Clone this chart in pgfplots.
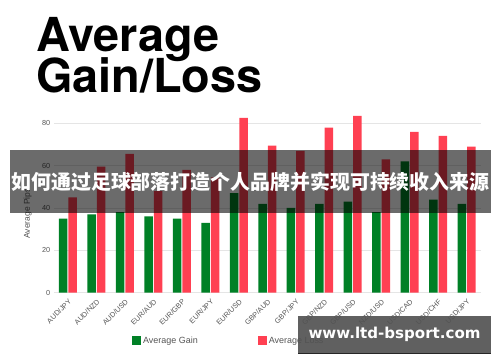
\documentclass[border=0pt]{standalone}
\usepackage{fontspec}
\setmainfont{Liberation Sans}
\newfontfamily\cjk{Noto Sans CJK SC}
\newfontfamily\titlefont{TeX Gyre Heros}
\newfontfamily\wmfont{DejaVu Sans}
\usepackage{graphicx}
\usepackage{pgfplots}
\pgfplotsset{compat=1.18}
\definecolor{gaingreen}{RGB}{0,128,38}
\definecolor{lossred}{RGB}{255,64,82}
\definecolor{ticktext}{RGB}{85,85,85}
\begin{document}
\begin{tikzpicture}[x=1bp,y=1bp]
\node[anchor=base west, inner sep=0, font=\titlefont\bfseries\fontsize{47}{47}\selectfont] at (36,311) {Average};
\node[anchor=base west, inner sep=0, font=\titlefont\bfseries\fontsize{47}{47}\selectfont] at (36,270) {Gain/Loss};
\begin{axis}[
  at={(53.75bp,69.3bp)}, anchor=south west, scale only axis,
  width=427bp, height=180bp,
  ymin=0, ymax=85, xmin=-0.5, xmax=14.5,
  ybar=1bp, bar width=8.5bp,
  ytick={0,20,40,60,80},
  xtick={0,...,14},
  xticklabels={AUD/JPY,AUD/NZD,AUD/USD,EUR/AUD,EUR/GBP,EUR/JPY,EUR/USD,GBP/AUD,GBP/JPY,GBP/NZD,GBP/USD,NZD/USD,USD/CAD,USD/CHF,USD/JPY},
  x tick label style={rotate=45, anchor=north east, font=\fontsize{7.3}{8}\selectfont, text=ticktext, inner sep=1bp},
  y tick label style={font=\fontsize{7.3}{8}\selectfont, text=ticktext},
  /pgf/number format/assume math mode=true,
  ymajorgrids, grid style={gray!20, line width=0.6bp},
  axis line style={draw=none}, tick style={draw=none},
  ylabel={Average Pips},
  every axis y label/.style={at={(rel axis cs:0,0.44)}, xshift=-26bp, rotate=90, anchor=center, font=\fontsize{8.5}{9}\selectfont, text=ticktext},
  legend style={at={(0.41,-0.268)}, anchor=center, draw=none, fill=none, legend columns=2, font=\fontsize{9}{10}\selectfont, text=ticktext, /tikz/every even column/.append style={column sep=58bp}},
  legend image code/.code={\fill[#1] (0bp,-4.5bp) rectangle (9bp,4.5bp);},
]
\addplot[fill=gaingreen, draw=none] coordinates {(0,35) (1,37) (2,38) (3,36) (4,35) (5,33) (6,47) (7,42) (8,40) (9,42) (10,43) (11,38) (12,62) (13,44) (14,42)};
\addplot[fill=lossred, draw=none] coordinates {(0,45) (1,59.5) (2,65.5) (3,48) (4,58) (5,54.5) (6,82.5) (7,69.5) (8,67) (9,78) (10,83.5) (11,63) (12,76) (13,74) (14,69)};
\legend{Average Gain, Average Loss}
\end{axis}
\fill[black, opacity=0.58] (10,212) rectangle (491,149.3);
\node[text=white, inner sep=0, font=\cjk\bfseries\fontsize{20}{20}\selectfont] at (250.5,180.6) {如何通过足球部落打造个人品牌并实现可持续收入来源};
\fill[black!68, opacity=0.92] (298,46) rectangle (491,9);
\draw[black!85, line width=0.8bp] (298,9) -- (491,9);
\node[text=white, inner sep=0, font=\wmfont\bfseries] at (394.5,27.5) {\resizebox{172bp}{!}{www.ltd-bsport.com}};
\pgfresetboundingbox
\path[use as bounding box] (0,0) rectangle (500,362);
\end{tikzpicture}
\end{document}
